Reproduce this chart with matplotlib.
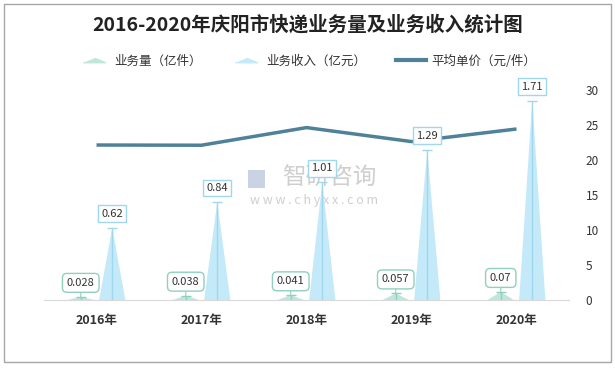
import matplotlib.pyplot as plt
from matplotlib.patches import Rectangle, Polygon
from matplotlib.lines import Line2D
import numpy as np

plt.rcParams['font.family'] = ['Noto Sans CJK SC', 'DejaVu Sans']

# 数据
years = ['2016年', '2017年', '2018年', '2019年', '2020年']
volume = [0.028, 0.038, 0.041, 0.057, 0.07]      # 业务量（亿件）
revenue = [0.62, 0.84, 1.01, 1.29, 1.71]         # 业务收入（亿元）
price = [22.14, 22.11, 24.63, 22.63, 24.43]      # 平均单价（元/件）

c_vol = '#bfe6dd'
c_vol_edge = '#8fd0c0'
c_rev = '#c4e9f8'
c_rev_edge = '#9fd8ee'
c_line = '#4f8198'

fig = plt.figure(figsize=(6.15, 3.68), dpi=100)

# 水印（在最底层）
fig.text(0.535, 0.516, '智研咨询', fontsize=17, color='#cfcfcf', ha='center', va='center',
         zorder=0)
fig.text(0.51, 0.456, 'w w w . c h y x x . c o m', fontsize=9, color='#cfcfcf',
         ha='center', va='center', zorder=0)
fig.add_artist(Rectangle((248/615, 1 - 188/368), 17/615, 18/368, transform=fig.transFigure,
                         fc='#c9d3e3', ec='none', zorder=0))

ax = fig.add_axes([44/615, 68/368, 525/615, 210/368])
ax2 = ax.twinx()
ax.set_zorder(ax2.get_zorder() + 1)
ax.patch.set_visible(False)
ax2.patch.set_visible(False)

x = np.arange(len(years))
off = 0.15
hw = 0.125

# 三角形柱
for i in range(len(years)):
    xv = x[i] - off
    ax.add_patch(Polygon([(xv - hw, 0), (xv + hw, 0), (xv, volume[i])],
                         closed=True, facecolor=c_vol, edgecolor='none'))
    xr = x[i] + off
    ax.add_patch(Polygon([(xr - hw, 0), (xr + hw, 0), (xr, revenue[i])],
                         closed=True, facecolor=c_rev, edgecolor='none'))

ax.vlines(x - off, 0, volume, color=c_vol_edge, lw=1)
ax.plot(x - off, volume, ls='none', marker='_', ms=7, mew=1, color=c_vol_edge)
ax.vlines(x + off, 0, revenue, color=c_rev_edge, lw=1)
ax.plot(x + off, revenue, ls='none', marker='_', ms=7, mew=1, color=c_rev_edge)

# 数据标签
for i in range(len(years)):
    ax.annotate(f'{revenue[i]:g}', xy=(x[i] + off, revenue[i]), xytext=(0, 10),
                textcoords='offset points', ha='center', va='center',
                fontsize=8, color='#333333',
                bbox=dict(boxstyle='square,pad=0.3', fc='white', ec=c_rev_edge, lw=1))
    ax.annotate(f'{volume[i]:g}', xy=(x[i] - off, volume[i]), xytext=(0, 10),
                textcoords='offset points', ha='center', va='center',
                fontsize=8, color='#333333',
                bbox=dict(boxstyle='round,pad=0.4', fc='white', ec=c_vol_edge, lw=1),
                arrowprops=dict(arrowstyle='-', color=c_vol_edge, lw=0.8,
                                shrinkA=0, shrinkB=0))

ax.set_xlim(-0.5, 4.5)
ax.set_ylim(0, 1.8)
ax.set_yticks([])
ax.set_xticks(x)
ax.set_xticklabels(years, fontsize=9, fontweight='bold', color='#333333')
ax.tick_params(axis='x', length=0, pad=10)
for s in ['top', 'left', 'right']:
    ax.spines[s].set_visible(False)
ax.spines['bottom'].set_color('#d9d9d9')

# 平均单价折线
ax2.plot(x, price, color=c_line, lw=2.5, solid_capstyle='butt')
ax2.set_ylim(0, 30)
ax2.set_yticks(range(0, 31, 5))
ax2.tick_params(axis='y', length=0, pad=12, labelsize=8.5, labelcolor='#333333')
for s in ax2.spines.values():
    s.set_visible(False)

# 标题与图例
fig.text(0.5, 0.932, '2016-2020年庆阳市快递业务量及业务收入统计图', ha='center', va='center',
         fontsize=14, fontweight='bold', color='#222222')

tri = [(-1, -0.2), (1, -0.2), (0, 0.2)]
handles = [
    Line2D([], [], ls='none', marker=tri, ms=16, color=c_vol),
    Line2D([], [], ls='none', marker=tri, ms=16, color=c_rev),
    Line2D([], [], color=c_line, lw=3),
]
labels = ['业务量（亿件）', '业务收入（亿元）', '平均单价（元/件）']
fig.legend(handles, labels, loc='center', bbox_to_anchor=(0.5, 0.834), ncol=3,
           frameon=False, fontsize=9, handlelength=2.4, columnspacing=2.4,
           handletextpad=0.4, labelcolor='#333333')

fig.add_artist(Rectangle((4/615, 6/368), 607/615, 358/368, transform=fig.transFigure,
                         fill=False, ec='#a6a6a6', lw=1))

fig.savefig('out.png', dpi=100)
